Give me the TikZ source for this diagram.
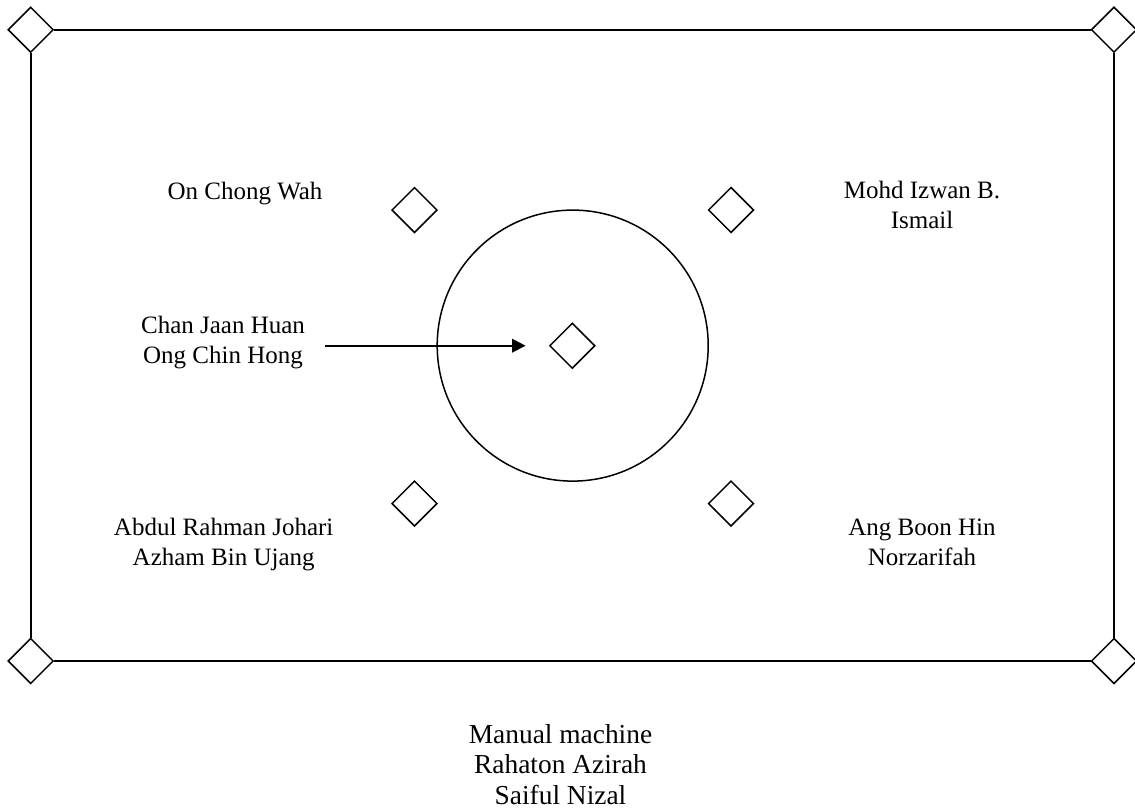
\documentclass[tikz,border=0pt]{standalone}
\usepackage{fontspec}
\setmainfont{Liberation Serif}
\usetikzlibrary{shapes.geometric,arrows.meta}
\begin{document}
% one unit = one pixel of a 1135 x 810 canvas, y running downwards;
% a multi-line name is placed by the baseline of its last line
\begin{tikzpicture}[x=0.5pt,y=-0.5pt,
  post/.style={draw,shape=diamond,aspect=1,inner sep=0pt,
    minimum width=22.75pt,minimum height=22.75pt,line width=0.75pt},
  frame/.style={line width=1pt},
  ring/.style={draw,circle,inner sep=0pt,minimum size=135.5pt,line width=0.75pt},
  person/.style={font=\fontsize{12.5pt}{15pt}\selectfont,align=center,anchor=base,inner sep=0pt},
  caption/.style={person,font=\fontsize{13.7pt}{15.25pt}\selectfont}]
\useasboundingbox (0,0) rectangle (1135,810);

% outer frame with a post at each corner
\node[post] (tl) at (30.7,29.7) {};
\node[post] (tr) at (1114,29.7) {};
\node[post] (bl) at (30.7,661) {};
\node[post] (br) at (1114,661) {};
\draw[frame] (tl.east) -- (tr.west);
\draw[frame] (bl.east) -- (br.west);
\draw[frame] (tl.south) -- (bl.north);
\draw[frame] (tr.south) -- (br.north);

% central circle and inner posts
\node[ring] (ring) at (572.7,345.6) {};
\node[post] (c) at (572.3,345.7) {};
\node[post] (nw) at (414.5,210) {};
\node[post] (ne) at (731,210) {};
\node[post] (sw) at (414.5,503.5) {};
\node[post] (se) at (731,503.5) {};

% names
\node[person] (n1) at (245,199.5) {On Chong Wah};
\node[person] (n2) at (922,228.5) {Mohd Izwan B.\\Ismail};
\node[person] (n3) at (223,363.5) {Chan Jaan Huan\\Ong Chin Hong};
\node[person] (n4) at (223.7,565) {Abdul Rahman Johari\\Azham Bin Ujang};
\node[person] (n5) at (922,565.5) {Ang Boon Hin\\Norzarifah};
\node[caption] (n6) at (560.5,804.3) {Manual machine\\Rahaton Azirah\\Saiful Nizal};

% pointer to the centre post
\coordinate (from) at (325,345.7);
\draw[line width=1pt,-{Triangle[length=6.7pt,width=6.7pt]},shorten >=11.6pt] (from) -- (c.west);
\end{tikzpicture}
\end{document}
